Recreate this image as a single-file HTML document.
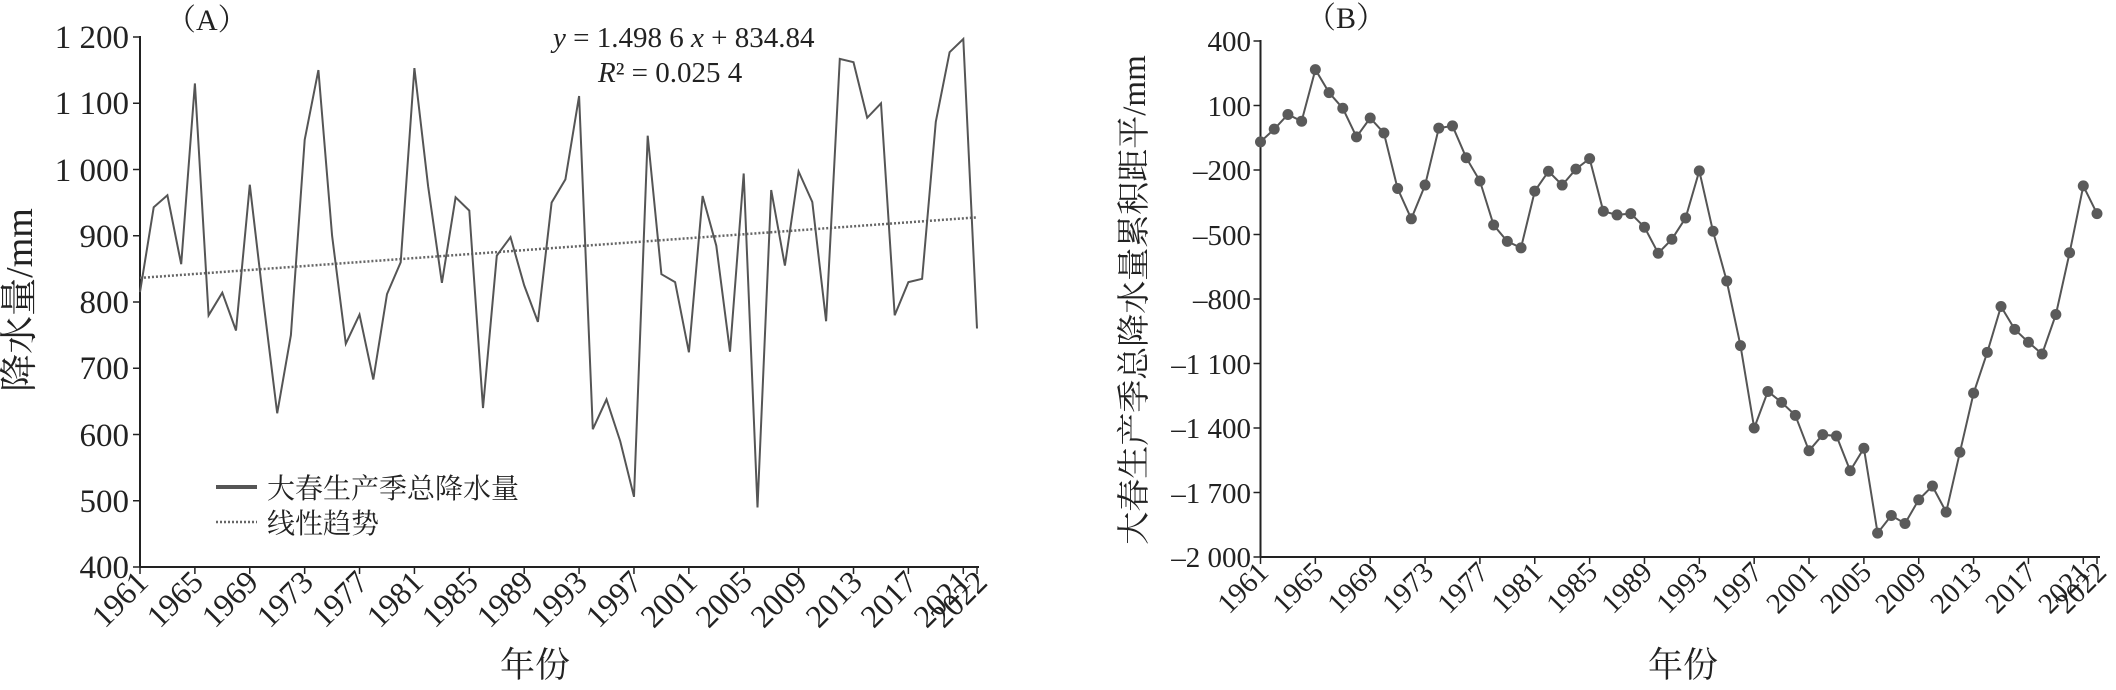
<!DOCTYPE html>
<html><head><meta charset="utf-8"><style>
html,body{margin:0;padding:0;background:#fff;}
svg{display:block;font-family:"Liberation Serif","Noto Serif CJK SC","Noto Sans CJK SC",serif;}
.t{fill:#222;}
.c{font-family:"Liberation Serif","Noto Serif CJK SC",serif;fill:#222;}
</style></head><body>
<svg id="s" width="2116" height="690" viewBox="0 0 2116 690" xmlns="http://www.w3.org/2000/svg">
<g id="A"></g><g id="B"></g>
<!-- Panel A texts -->
<text class="c" x="166" y="30" font-size="30">（A）</text>
<text class="t" x="553" y="47" font-size="29"><tspan font-style="italic">y</tspan> = 1.498 6 <tspan font-style="italic">x</tspan> + 834.84</text>
<text class="t" x="598" y="82" font-size="29"><tspan font-style="italic">R</tspan>² = 0.025 4</text>
<line x1="216" y1="487" x2="257" y2="487" stroke="#555" stroke-width="4"/>
<text class="c" x="267" y="498" font-size="28">大春生产季总降水量</text>
<line x1="216" y1="522" x2="257" y2="522" stroke="#666" stroke-width="2.5" stroke-dasharray="2,2"/>
<text class="c" x="267" y="533" font-size="28">线性趋势</text>
<text class="c" x="535" y="677" font-size="35" text-anchor="middle">年份</text>
<text class="c" font-size="38" text-anchor="middle" transform="translate(32,300) rotate(-90)">降水量/mm</text>
<g class="t" text-anchor="end" font-size="33">
<text x="129" y="48">1 200</text><text x="129" y="114">1 100</text><text x="129" y="181">1 000</text>
<text x="129" y="247">900</text><text x="129" y="313">800</text><text x="129" y="379">700</text>
<text x="129" y="446">600</text><text x="129" y="512">500</text><text x="129" y="578">400</text>
</g>
<g class="t" text-anchor="end" font-size="32">
<text transform="translate(150,584) rotate(-45)">1961</text>
<text transform="translate(205,584) rotate(-45)">1965</text>
<text transform="translate(260,584) rotate(-45)">1969</text>
<text transform="translate(315,584) rotate(-45)">1973</text>
<text transform="translate(370,584) rotate(-45)">1977</text>
<text transform="translate(425,584) rotate(-45)">1981</text>
<text transform="translate(480,584) rotate(-45)">1985</text>
<text transform="translate(535,584) rotate(-45)">1989</text>
<text transform="translate(589,584) rotate(-45)">1993</text>
<text transform="translate(644,584) rotate(-45)">1997</text>
<text transform="translate(699,584) rotate(-45)">2001</text>
<text transform="translate(754,584) rotate(-45)">2005</text>
<text transform="translate(809,584) rotate(-45)">2009</text>
<text transform="translate(864,584) rotate(-45)">2013</text>
<text transform="translate(919,584) rotate(-45)">2017</text>
<text transform="translate(972,584) rotate(-45)">2021</text>
<text transform="translate(989,584) rotate(-45)">2022</text>
</g>
<!-- Panel B texts -->
<text class="c" x="1306" y="28" font-size="30">（B）</text>
<text class="c" x="1683" y="677" font-size="35" text-anchor="middle">年份</text>
<text class="c" font-size="33" text-anchor="middle" transform="translate(1145,300) rotate(-90)">大春生产季总降水量累积距平/mm</text>
<g class="t" text-anchor="end" font-size="29">
<text x="1251" y="51">400</text><text x="1251" y="116">100</text><text x="1251" y="180">–200</text>
<text x="1251" y="245">–500</text><text x="1251" y="309">–800</text><text x="1251" y="374">–1 100</text>
<text x="1251" y="438">–1 400</text><text x="1251" y="503">–1 700</text><text x="1251" y="567">–2 000</text>
</g>
<g class="t" text-anchor="end" font-size="29">
<text transform="translate(1270,574) rotate(-45)">1961</text>
<text transform="translate(1325,574) rotate(-45)">1965</text>
<text transform="translate(1380,574) rotate(-45)">1969</text>
<text transform="translate(1435,574) rotate(-45)">1973</text>
<text transform="translate(1490,574) rotate(-45)">1977</text>
<text transform="translate(1544,574) rotate(-45)">1981</text>
<text transform="translate(1599,574) rotate(-45)">1985</text>
<text transform="translate(1654,574) rotate(-45)">1989</text>
<text transform="translate(1709,574) rotate(-45)">1993</text>
<text transform="translate(1764,574) rotate(-45)">1997</text>
<text transform="translate(1819,574) rotate(-45)">2001</text>
<text transform="translate(1873,574) rotate(-45)">2005</text>
<text transform="translate(1928,574) rotate(-45)">2009</text>
<text transform="translate(1983,574) rotate(-45)">2013</text>
<text transform="translate(2038,574) rotate(-45)">2017</text>
<text transform="translate(2091,574) rotate(-45)">2021</text>
<text transform="translate(2108,574) rotate(-45)">2022</text>
</g>
</svg>
<script>
var NS="http://www.w3.org/2000/svg";
function el(p,n,a){var e=document.createElementNS(NS,n);for(var k in a)e.setAttribute(k,a[k]);p.appendChild(e);return e;}
var A=document.getElementById("A"),B=document.getElementById("B");
var da=[815,943,961,857,1130,780,814,757,977,800,632,750,1045,1150,900,737,781,683,812,860,1153,975,829,958,938,640,870,898,825,770,950,985,1111,608,653,590,506,1051,842,830,724,960,885,725,994,490,969,855,997,951,771,1167,1162,1078,1100,780,830,835,1072,1177,1197,760];
var ax0=140,ax1=977,ay=function(v){return 37+(1200-v)*0.6625;},dx=(ax1-ax0)/61;
el(A,"line",{x1:ax0,y1:36,x2:ax0,y2:567,stroke:"#222","stroke-width":2});
el(A,"line",{x1:ax0,y1:567,x2:ax1+2,y2:567,stroke:"#222","stroke-width":2});
for(var v=400;v<=1200;v+=100)el(A,"line",{x1:ax0-7,y1:ay(v),x2:ax0,y2:ay(v),stroke:"#222","stroke-width":1.5});
var ti=[0,4,8,12,16,20,24,28,32,36,40,44,48,52,56,60,61];
ti.forEach(function(i){el(A,"line",{x1:ax0+i*dx,y1:567,x2:ax0+i*dx,y2:574,stroke:"#222","stroke-width":1.5});});
el(A,"line",{x1:ax0,y1:ay(836.34),x2:ax1,y2:ay(927.75),stroke:"#666","stroke-width":2.5,"stroke-dasharray":"2,2"});
el(A,"polyline",{points:da.map(function(v,i){return (ax0+i*dx).toFixed(1)+","+ay(v).toFixed(1);}).join(" "),fill:"none",stroke:"#555","stroke-width":2});
var db=[-69,-10,58,27,267,160,87,-46,42,-28,-286,-427,-270,-5,5,-143,-251,-456,-532,-562,-298,-206,-270,-196,-147,-392,-409,-403,-466,-587,-522,-423,-204,-485,-716,-1017,-1400,-1230,-1281,-1341,-1506,-1431,-1437,-1599,-1494,-1889,-1807,-1844,-1734,-1670,-1791,-1513,-1238,-1048,-835,-941,-1001,-1056,-872,-585,-274,-403];
var bx0=1260.5,bx1=2097,by=function(v){return 41+(400-v)*0.215;},bdx=(bx1-bx0)/61;
el(B,"line",{x1:bx0,y1:40,x2:bx0,y2:557,stroke:"#222","stroke-width":2});
el(B,"line",{x1:bx0,y1:557,x2:bx1+3,y2:557,stroke:"#222","stroke-width":2});
for(var v=-2000;v<=400;v+=300)el(B,"line",{x1:bx0-7,y1:by(v),x2:bx0,y2:by(v),stroke:"#222","stroke-width":1.5});
ti.forEach(function(i){el(B,"line",{x1:bx0+i*bdx,y1:557,x2:bx0+i*bdx,y2:564,stroke:"#222","stroke-width":1.5});});
el(B,"polyline",{points:db.map(function(v,i){return (bx0+i*bdx).toFixed(1)+","+by(v).toFixed(1);}).join(" "),fill:"none",stroke:"#555","stroke-width":2});
db.forEach(function(v,i){el(B,"circle",{cx:bx0+i*bdx,cy:by(v),r:5.5,fill:"#5a5a5a"});});
</script>
</body></html>
